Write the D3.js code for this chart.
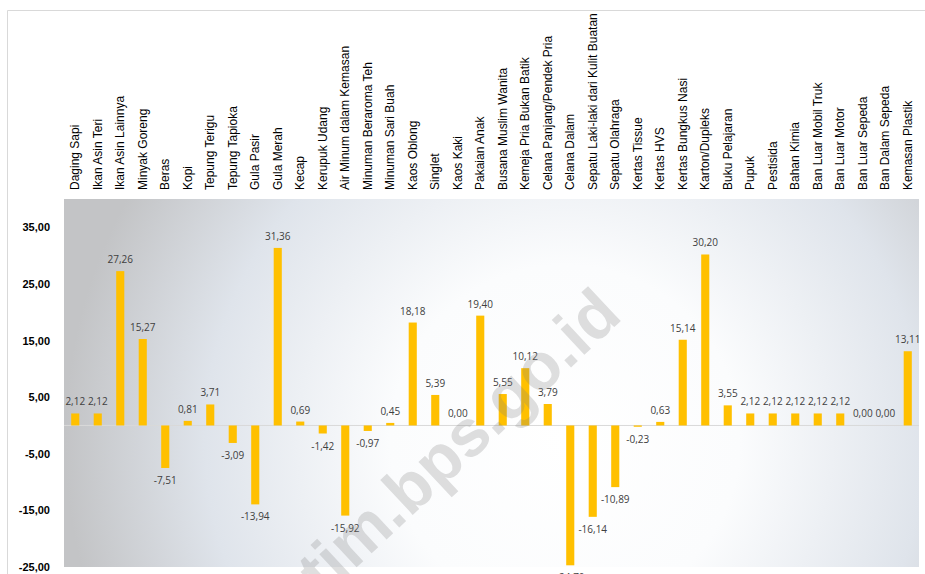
<!DOCTYPE html>
<html>
<head>
<meta charset="utf-8">
<script src="https://cdn.jsdelivr.net/npm/d3@7"></script>
<style>
  body { margin: 0; background: #fff; }
  .cat { font-family: "Liberation Sans", Arial, sans-serif; font-size: 12px; fill: #000; }
  .ytick { font-family: "Liberation Sans", Arial, sans-serif; font-size: 11px; font-weight: bold; fill: #000; }
  .val { font-family: "Open Sans", sans-serif; font-size: 10px; fill: #404040; }
</style>
</head>
<body>
<svg id="chart" width="925" height="574"></svg>
<script>
var categories = [
  "Daging Sapi", "Ikan Asin Teri", "Ikan Asin Lainnya", "Minyak Goreng", "Beras",
  "Kopi", "Tepung Terigu", "Tepung Tapioka", "Gula Pasir", "Gula Merah",
  "Kecap", "Kerupuk Udang", "Air Minum dalam Kemasan", "Minuman Beraroma Teh",
  "Minuman Sari Buah", "Kaos Oblong", "Singlet", "Kaos Kaki", "Pakaian Anak",
  "Busana Muslim Wanita", "Kemeja Pria Bukan Batik", "Celana Panjang/Pendek Pria",
  "Celana Dalam", "Sepatu Laki-laki dari Kulit Buatan", "Sepatu Olahraga",
  "Kertas Tissue", "Kertas HVS", "Kertas Bungkus Nasi", "Karton/Dupleks",
  "Buku Pelajaran", "Pupuk", "Pestisida", "Bahan Kimia", "Ban Luar Mobil Truk",
  "Ban Luar Motor", "Ban Luar Sepeda", "Ban Dalam Sepeda", "Kemasan Plastik"
];
var values = [
  2.12, 2.12, 27.26, 15.27, -7.51,
  0.81, 3.71, -3.09, -13.94, 31.36,
  0.69, -1.42, -15.92, -0.97,
  0.45, 18.18, 5.39, 0.00, 19.40,
  5.55, 10.12, 3.79,
  -24.70, -16.14, -10.89,
  -0.23, 0.63, 15.14, 30.20,
  3.55, 2.12, 2.12, 2.12, 2.12,
  2.12, 0.00, 0.00, 13.11
];
var yTicks = [35, 25, 15, 5, -5, -15, -25];
var yDomain = [-25, 40];

var svg = d3.select("#chart");
var plot = {left: 64, right: 919, top: 199, bottom: 567};

// excel style numbers: 2 decimals, comma, plain hyphen
var fmt = function(v) {
  return d3.format(".2f")(v).replace("\u2212", "-").replace(".", ",");
};

// frame of the chart (only top and left edges are visible in the crop)
svg.append("line").attr("x1", 7.5).attr("x2", 925).attr("y1", 10.5).attr("y2", 10.5)
  .attr("stroke", "#d9d9d9");
svg.append("line").attr("x1", 7.5).attr("x2", 7.5).attr("y1", 10.5).attr("y2", 574)
  .attr("stroke", "#d9d9d9");

var defs = svg.append("defs");
var grad = defs.append("radialGradient")
  .attr("id", "bg")
  .attr("gradientUnits", "userSpaceOnUse")
  .attr("cx", 565).attr("cy", 440).attr("r", 500);
grad.append("stop").attr("offset", 0).attr("stop-color", "#ffffff");
grad.append("stop").attr("offset", 0.35).attr("stop-color", "#fbfcfd");
grad.append("stop").attr("offset", 0.72).attr("stop-color", "#dfe4eb");
grad.append("stop").attr("offset", 1).attr("stop-color", "#c3c4c6");

svg.append("rect")
  .attr("x", plot.left).attr("y", plot.top)
  .attr("width", plot.right - plot.left).attr("height", plot.bottom - plot.top)
  .attr("fill", "url(#bg)");

var x = d3.scaleBand()
  .domain(categories)
  .range([plot.left, plot.right])
  .paddingInner(0.64)
  .paddingOuter(0.32);

var y = d3.scaleLinear()
  .domain(yDomain)
  .range([plot.bottom, plot.top]);

// y axis, labels only
var yAxis = d3.axisLeft(y)
  .tickValues(yTicks)
  .tickSize(0)
  .tickPadding(0)
  .tickFormat(fmt);
svg.append("g")
  .attr("transform", "translate(50,0)")
  .call(yAxis)
  .call(function(g) { g.select(".domain").remove(); })
  .selectAll("text")
  .attr("class", "ytick")
  .attr("font-size", null).attr("font-family", null).attr("fill", null);

// zero line
svg.append("line")
  .attr("x1", plot.left).attr("x2", plot.right)
  .attr("y1", y(0)).attr("y2", y(0))
  .attr("stroke", "#d9d9d9").attr("stroke-width", 1);

// category labels, rotated, above the plot
var xAxis = d3.axisTop(x).tickSize(0).tickPadding(0);
svg.append("g")
  .attr("transform", "translate(0,190)")
  .call(xAxis)
  .call(function(g) { g.select(".domain").remove(); })
  .selectAll("text")
  .attr("class", "cat")
  .attr("font-size", null).attr("font-family", null).attr("fill", null)
  .attr("transform", "rotate(-90)")
  .attr("text-anchor", "start")
  .attr("x", 0).attr("y", 0)
  .attr("dy", "0.35em");

var rows = categories.map(function(c, i) { return {cat: c, val: values[i]}; });

svg.append("g").selectAll("rect")
  .data(rows)
  .enter().append("rect")
  .attr("x", function(d) { return x(d.cat); })
  .attr("width", x.bandwidth())
  .attr("y", function(d) { return y(Math.max(0, d.val)); })
  .attr("height", function(d) { return Math.abs(y(d.val) - y(0)); })
  .attr("fill", "#ffc000");

svg.append("g").selectAll("text")
  .data(rows)
  .enter().append("text")
  .attr("class", "val")
  .attr("text-anchor", "middle")
  .attr("x", function(d) { return x(d.cat) + x.bandwidth() / 2; })
  .attr("y", function(d) { return d.val >= 0 ? y(d.val) - 8 : y(d.val) + 16; })
  .text(function(d) { return fmt(d.val); });

// watermark
svg.append("text")
  .attr("transform", "translate(438,460) rotate(-43)")
  .attr("text-anchor", "middle")
  .attr("dominant-baseline", "central")
  .attr("font-family", "Liberation Sans, Arial, sans-serif")
  .attr("font-weight", "bold")
  .attr("font-size", 66)
  .attr("fill", "#7f7f7f")
  .attr("fill-opacity", 0.25)
  .text("jatim.bps.go.id");
</script>
</body>
</html>
